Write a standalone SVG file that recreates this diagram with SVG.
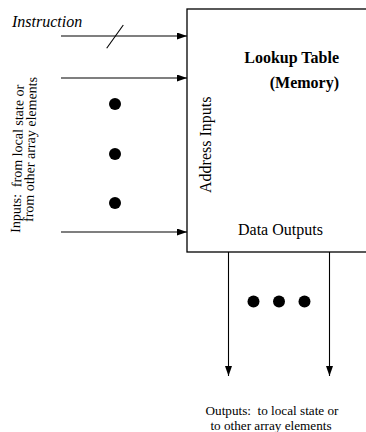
<svg xmlns="http://www.w3.org/2000/svg" width="366" height="432" viewBox="0 0 366 432">
<style>
  text { font-family: "Liberation Serif", "Times New Roman", serif; fill: #000; }
  .lbl { font-size: 16px; }
  .bold { font-size: 16px; font-weight: bold; }
  .small { font-size: 14px; white-space: pre; }
  .out { font-size: 13.2px; white-space: pre; }
  .ln { stroke: #000; stroke-width: 1.1; fill: none; }
  .dot { fill: #000; }
</style>
<defs>
  <marker id="ah" markerWidth="10" markerHeight="7" refX="10" refY="3.5" orient="auto" markerUnits="userSpaceOnUse">
    <path d="M0,0 L10,3.5 L0,7 Z" fill="#000"/>
  </marker>
</defs>
<rect width="366" height="432" fill="#fff"/>

<g id="lookup-table">
  <rect x="187" y="9" width="200" height="243" fill="#fff" stroke="#000" stroke-width="1.3"/>
  <text class="bold" x="339" y="63" text-anchor="end">Lookup Table</text>
  <text class="bold" x="339" y="88" text-anchor="end">(Memory)</text>
  <text class="lbl" x="211" y="193" transform="rotate(-90 211 193)">Address Inputs</text>
  <text class="lbl" x="238" y="235">Data Outputs</text>
</g>

<g id="instruction-label">
  <text class="lbl" x="12" y="27" font-style="italic">Instruction</text>
</g>

<g id="inputs-label">
  <text class="small" x="20" y="233" transform="rotate(-88.5 20 233)">Inputs:  from local state or</text>
  <text class="small" x="33" y="222" transform="rotate(-88.5 33 222)" font-size="13.6">from other array elements</text>
</g>

<g id="input-dots">
  <circle class="dot" cx="115" cy="104" r="6"/>
  <circle class="dot" cx="115" cy="154" r="6"/>
  <circle class="dot" cx="115" cy="203" r="6"/>
</g>

<g id="output-dots">
  <circle class="dot" cx="253.5" cy="301.5" r="6"/>
  <circle class="dot" cx="279" cy="301.5" r="6"/>
  <circle class="dot" cx="304.5" cy="301.5" r="6"/>
</g>

<g id="outputs-label">
  <text class="out" x="272" y="415" text-anchor="middle">Outputs:  to local state or</text>
  <text class="out" x="271" y="429.5" text-anchor="middle">to other array elements</text>
</g>

<g id="connectors">
  <line class="ln" x1="61" y1="36" x2="187" y2="36" marker-end="url(#ah)"/>
  <line class="ln" x1="106.7" y1="48.3" x2="123.3" y2="25"/>
  <line class="ln" x1="61" y1="78" x2="187" y2="78" marker-end="url(#ah)"/>
  <line class="ln" x1="61" y1="232" x2="187" y2="232" marker-end="url(#ah)"/>
  <line class="ln" x1="228.5" y1="252" x2="228.5" y2="376" marker-end="url(#ah)"/>
  <line class="ln" x1="329.5" y1="252" x2="329.5" y2="376" marker-end="url(#ah)"/>
</g>
</svg>
